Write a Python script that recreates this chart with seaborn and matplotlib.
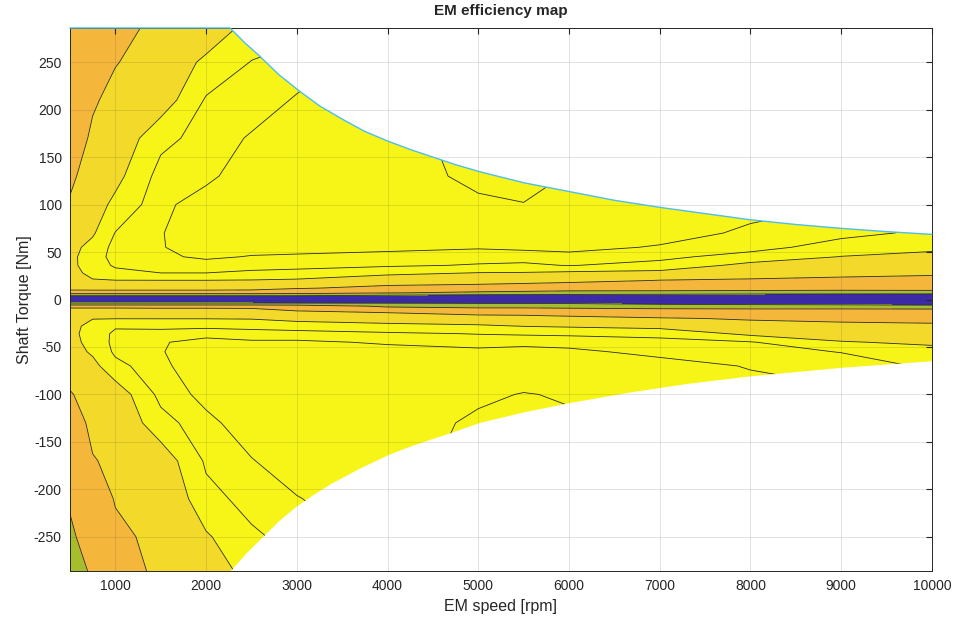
import numpy as np
import matplotlib
matplotlib.use("Agg")
import matplotlib.pyplot as plt
from matplotlib.patches import Polygon
import seaborn as sns

# grid of the map
speed = [500, 750, 1000, 1500, 2000, 2500, 3000, 4000, 5000, 5500, 6000, 7000, 8000, 9000, 10000]
torque = [-290, -250, -210, -170, -130, -100, -70, -55, -45, -36, -28, -20, -12, -7, -4, 0,
          4, 7, 12, 20, 28, 36, 45, 55, 70, 100, 130, 170, 210, 250, 290]

# efficiency, one row per speed, values from -290 Nm up to +290 Nm
eff = [
    # 500 rpm
    [0.64, 0.685, 0.71, 0.74, 0.77, 0.795, 0.83, 0.835, 0.838, 0.84, 0.84, 0.838, 0.83, 0.78, 0.58, 0.2,
     0.55, 0.76, 0.827, 0.835, 0.84, 0.842, 0.842, 0.84, 0.83, 0.805, 0.79, 0.775, 0.76, 0.75, 0.74],
    # 750 rpm
    [0.712, 0.74, 0.77, 0.797, 0.813, 0.826, 0.84, 0.855, 0.862, 0.865, 0.86, 0.849, 0.83, 0.78, 0.58, 0.2,
     0.55, 0.76, 0.83, 0.848, 0.858, 0.865, 0.866, 0.86, 0.846, 0.834, 0.824, 0.807, 0.795, 0.78, 0.77],
    # 1000 rpm
    [0.775, 0.79, 0.803, 0.81, 0.82, 0.83, 0.872, 0.885, 0.887, 0.885, 0.877, 0.849, 0.83, 0.78, 0.58, 0.2,
     0.55, 0.76, 0.83, 0.849, 0.872, 0.884, 0.89, 0.889, 0.881, 0.858, 0.84, 0.825, 0.812, 0.798, 0.785],
    # 1500 rpm
    [0.81, 0.812, 0.815, 0.83, 0.87, 0.888, 0.896, 0.899, 0.8985, 0.888, 0.874, 0.849, 0.825, 0.78, 0.58, 0.2,
     0.55, 0.76, 0.83, 0.849, 0.88, 0.891, 0.897, 0.899, 0.899, 0.896, 0.89, 0.872, 0.832, 0.82, 0.81],
    # 2000 rpm
    [0.83, 0.846, 0.872, 0.884, 0.895, 0.906, 0.912, 0.91, 0.906, 0.894, 0.874, 0.849, 0.825, 0.78, 0.58, 0.2,
     0.55, 0.76, 0.83, 0.849, 0.88, 0.893, 0.903, 0.908, 0.912, 0.908, 0.896, 0.89, 0.883, 0.858, 0.82],
    # 2500 rpm
    [0.86, 0.876, 0.888, 0.899, 0.91, 0.914, 0.913, 0.909, 0.903, 0.89, 0.872, 0.848, 0.822, 0.78, 0.58, 0.2,
     0.55, 0.76, 0.825, 0.848, 0.875, 0.89, 0.899, 0.906, 0.912, 0.914, 0.91, 0.902, 0.89, 0.881, 0.86],
    # 3000 rpm
    [0.87, 0.888, 0.899, 0.91, 0.915, 0.916, 0.913, 0.909, 0.903, 0.89, 0.866, 0.84, 0.80, 0.77, 0.57, 0.2,
     0.55, 0.75, 0.805, 0.845, 0.872, 0.888, 0.898, 0.905, 0.912, 0.916, 0.915, 0.91, 0.902, 0.89, 0.87],
    # 4000 rpm
    [0.905, 0.91, 0.914, 0.915, 0.914, 0.915, 0.912, 0.906, 0.898, 0.884, 0.86, 0.832, 0.79, 0.68, 0.56, 0.2,
     0.52, 0.705, 0.785, 0.828, 0.858, 0.884, 0.895, 0.904, 0.912, 0.915, 0.914, 0.915, 0.915, 0.91, 0.905],
    # 5000 rpm
    [0.915, 0.918, 0.922, 0.924, 0.922, 0.918, 0.911, 0.9045, 0.893, 0.879, 0.855, 0.826, 0.77, 0.66, 0.545, 0.2,
     0.48, 0.68, 0.77, 0.83, 0.849, 0.878, 0.89, 0.902, 0.911, 0.918, 0.923, 0.925, 0.922, 0.918, 0.915],
    # 5500 rpm
    [0.915, 0.92, 0.924, 0.926, 0.925, 0.9205, 0.913, 0.906, 0.895, 0.877, 0.849, 0.822, 0.77, 0.66, 0.545, 0.2,
     0.48, 0.67, 0.765, 0.822, 0.848, 0.876, 0.889, 0.905, 0.912, 0.9195, 0.926, 0.927, 0.925, 0.92, 0.915],
    # 6000 rpm
    [0.915, 0.918, 0.92, 0.9215, 0.9215, 0.919, 0.91, 0.903, 0.895, 0.875, 0.846, 0.815, 0.765, 0.65, 0.54, 0.2,
     0.46, 0.66, 0.755, 0.816, 0.844, 0.881, 0.895, 0.905, 0.911, 0.917, 0.919, 0.918, 0.915, 0.912, 0.91],
    # 7000 rpm
    [0.908, 0.91, 0.912, 0.914, 0.914, 0.912, 0.906, 0.896, 0.886, 0.874, 0.838, 0.805, 0.75, 0.64, 0.5, 0.2,
     0.44, 0.66, 0.75, 0.798, 0.84, 0.872, 0.886, 0.8985, 0.907, 0.913, 0.915, 0.914, 0.912, 0.91, 0.908],
    # 8000 rpm
    [0.905, 0.907, 0.909, 0.91, 0.909, 0.906, 0.899, 0.889, 0.882, 0.842, 0.818, 0.795, 0.75, 0.63, 0.48, 0.2,
     0.42, 0.64, 0.76, 0.795, 0.818, 0.84, 0.87, 0.889, 0.897, 0.906, 0.91, 0.911, 0.91, 0.908, 0.906],
    # 9000 rpm
    [0.903, 0.905, 0.906, 0.907, 0.906, 0.903, 0.893, 0.879, 0.852, 0.835, 0.811, 0.79, 0.75, 0.63, 0.46, 0.2,
     0.4, 0.64, 0.75, 0.79, 0.812, 0.83, 0.849, 0.869, 0.887, 0.9, 0.906, 0.907, 0.906, 0.905, 0.903],
    # 10000 rpm
    [0.9, 0.901, 0.902, 0.902, 0.9, 0.895, 0.876, 0.86, 0.845, 0.826, 0.806, 0.79, 0.75, 0.62, 0.42, 0.2,
     0.38, 0.645, 0.75, 0.79, 0.805, 0.822, 0.84, 0.858, 0.875, 0.895, 0.902, 0.904, 0.904, 0.903, 0.902],
]

# torque limits (motoring / generating)
up_speed = [500, 2264, 2420, 2584, 2800, 3036, 3250, 3500, 3750, 4000, 4250, 4500, 4750, 5020, 5500,
            6013, 6500, 7005, 7500, 7997, 8500, 8990, 9500, 10000]
up_torque = [286, 286, 271, 257, 237, 219, 204, 190, 177, 167, 158, 150, 142, 134.5, 123,
             113.5, 104.5, 97, 90.5, 84, 79, 75, 71.5, 68.6]
lo_speed = [500, 2264, 2450, 2631, 2800, 3000, 3200, 3367, 3700, 4009, 4250, 4469, 4750, 5020, 5500,
            6013, 6674, 7300, 7997, 9000, 10000]
lo_torque = [-290, -287, -267, -250, -234, -218, -205, -195, -178, -164, -155, -148, -139, -130, -119,
             -109, -98, -89, -81, -72, -65]

levels = [0, 0.55, 0.70, 0.80, 0.85, 0.88, 0.90, 0.92, 1.0]
fill_colors = ['#3D2AA8', '#A6BE2C', '#F5B63C', '#F3DA2A', '#F7F518', '#F7F518', '#F7F518', '#F7F518']

sns.set_style("white")
plt.rcParams['font.family'] = ['Liberation Sans', 'DejaVu Sans']
plt.rcParams['axes.unicode_minus'] = False
dark = (0.15, 0.15, 0.15)

fig = plt.figure(figsize=(9.6, 6.25), dpi=100)
ax = fig.add_axes([0.0729, 0.0864, 0.8979, 0.8688])

Z = np.array(eff).T
cs = ax.contourf(speed, torque, Z, levels=levels, colors=fill_colors)
cl = ax.contour(speed, torque, Z, levels=levels[1:-1], colors='#2a2a2a', linewidths=0.6)

outline = np.column_stack([np.r_[up_speed, lo_speed[::-1]], np.r_[up_torque, lo_torque[::-1]]])
env = Polygon(outline, closed=True, transform=ax.transData)
cs.set_clip_path(env)
cl.set_clip_path(env)

ax.plot(up_speed, up_torque, color='#4DBEEE', lw=1.0, clip_on=False, zorder=3)

ax.set_xlim(500, 10000)
ax.set_ylim(-286, 286)
ax.set_xticks(np.arange(1000, 10001, 1000))
ax.set_yticks(np.arange(-250, 251, 50))
ax.grid(True, color=dark, alpha=0.15, lw=0.6)
ax.set_axisbelow(False)
ax.tick_params(direction='in', length=4, top=True, right=True, color=dark,
               labelsize=10, labelcolor=dark, pad=6)
for s in ax.spines.values():
    s.set_color(dark)
    s.set_linewidth(0.7)

ax.set_title('EM efficiency map', fontsize=11, fontweight='bold', pad=9)
ax.set_xlabel('EM speed [rpm]', fontsize=11.5, color=dark, labelpad=4)
ax.set_ylabel('Shaft Torque [Nm]', fontsize=11.5, color=dark, labelpad=1)

fig.savefig('out.png', dpi=100)
